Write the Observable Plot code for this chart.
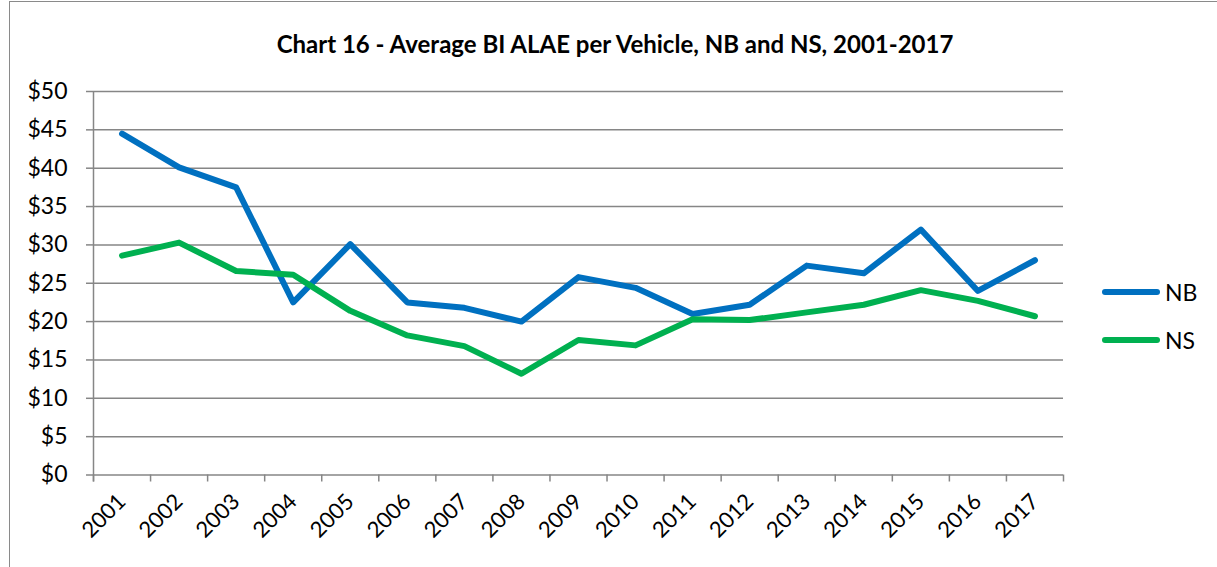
<!DOCTYPE html>
<html>
<head>
<meta charset="utf-8">
<script src="https://cdn.jsdelivr.net/npm/d3@7"></script>
<script src="https://cdn.jsdelivr.net/npm/@observablehq/plot@0.6"></script>
<style>
  body { margin: 0; background: #fff; font-family: Lato, "Open Sans", sans-serif; }
  #wrap { position: relative; width: 1217px; height: 567px; overflow: hidden; background: #fff; }
  #frame { position: absolute; left: 9px; top: 1px; width: 1230px; height: 620px; border: 1.5px solid #8a8a8a; box-sizing: border-box; pointer-events: none; }
  #title { position: absolute; top: 29px; left: 0; width: 1230px; text-align: center; font-weight: bold; font-size: 24px; color: #000; line-height: 30px; }
  #chart { position: absolute; left: 0; top: 60px; }
  .leg { position: absolute; left: 1100px; height: 30px; display: flex; align-items: center; font-size: 23px; color: #000; }
  .leg svg { display: block; margin-right: 3px; }
</style>
</head>
<body>
<div id="wrap">
  <div id="title">Chart 16 - Average BI ALAE per Vehicle, NB and NS, 2001-2017</div>
  <div id="chart"></div>
  <div id="legend"></div>
  <div id="frame"></div>
</div>
<script>
const years = [2001, 2002, 2003, 2004, 2005, 2006, 2007, 2008, 2009, 2010, 2011, 2012, 2013, 2014, 2015, 2016, 2017];
const nbValues = [44.5, 40.1, 37.5, 22.5, 30.1, 22.5, 21.8, 20.0, 25.8, 24.4, 21.0, 22.2, 27.3, 26.3, 32.0, 24.0, 28.0];
const nsValues = [28.6, 30.3, 26.6, 26.1, 21.4, 18.2, 16.8, 13.2, 17.6, 16.9, 20.3, 20.2, 21.2, 22.2, 24.1, 22.7, 20.7];
const seriesNames = ["NB", "NS"];
const seriesColors = ["#0070C0", "#00B050"];
const yTicks = [0, 5, 10, 15, 20, 25, 30, 35, 40, 45, 50];

const rows = [
  ...years.map((yr, i) => ({year: yr, value: nbValues[i], series: "NB"})),
  ...years.map((yr, i) => ({year: yr, value: nsValues[i], series: "NS"}))
];
const boundaries = [...years.map(y => y - 0.5), years[years.length - 1] + 0.5];
const grid = "#868686";

const chart = Plot.plot({
  width: 1217,
  height: 507,
  marginLeft: 93,
  marginRight: 154,
  marginTop: 31,
  marginBottom: 92.5,
  style: {fontFamily: "Lato, 'Open Sans', sans-serif", background: "transparent", color: "#000"},
  x: {type: "linear", domain: [boundaries[0], boundaries[boundaries.length - 1]], axis: null, label: null},
  y: {domain: [0, 50], axis: null, label: null},
  color: {domain: seriesNames, range: seriesColors},
  marks: [
    Plot.gridY(yTicks, {stroke: grid, strokeOpacity: 1, strokeWidth: 1.5}),
    Plot.axisY(yTicks, {label: null, tickSize: 7, tickPadding: 19, stroke: grid, strokeWidth: 1.5, fill: "#000", fontSize: 23, tickFormat: d => "$" + d}),
    Plot.ruleX([boundaries[0]], {y1: 50, y2: 0, insetBottom: -7, stroke: grid, strokeWidth: 1.5}),
    Plot.axisX(boundaries, {label: null, tickSize: 7, stroke: grid, strokeWidth: 1.5, tickFormat: () => ""}),
    Plot.axisX(years, {label: null, tickSize: 0, tickPadding: 23, tickRotate: -45, fontSize: 22, fill: "#000", tickFormat: d => String(d)}),
    Plot.line(rows, {x: "year", y: "value", z: "series", stroke: "series", strokeWidth: 6, strokeLinejoin: "round", strokeLinecap: "round"})
  ]
});
document.getElementById("chart").appendChild(chart);

const legend = document.getElementById("legend");
const legendTops = [277, 325];
seriesNames.forEach((name, i) => {
  const div = document.createElement("div");
  div.className = "leg";
  div.style.top = legendTops[i] + "px";
  div.innerHTML = `<svg width="62" height="10"><line x1="5" y1="5" x2="57" y2="5" stroke="${seriesColors[i]}" stroke-width="6" stroke-linecap="round"/></svg><span>${name}</span>`;
  legend.appendChild(div);
});
</script>
</body>
</html>
